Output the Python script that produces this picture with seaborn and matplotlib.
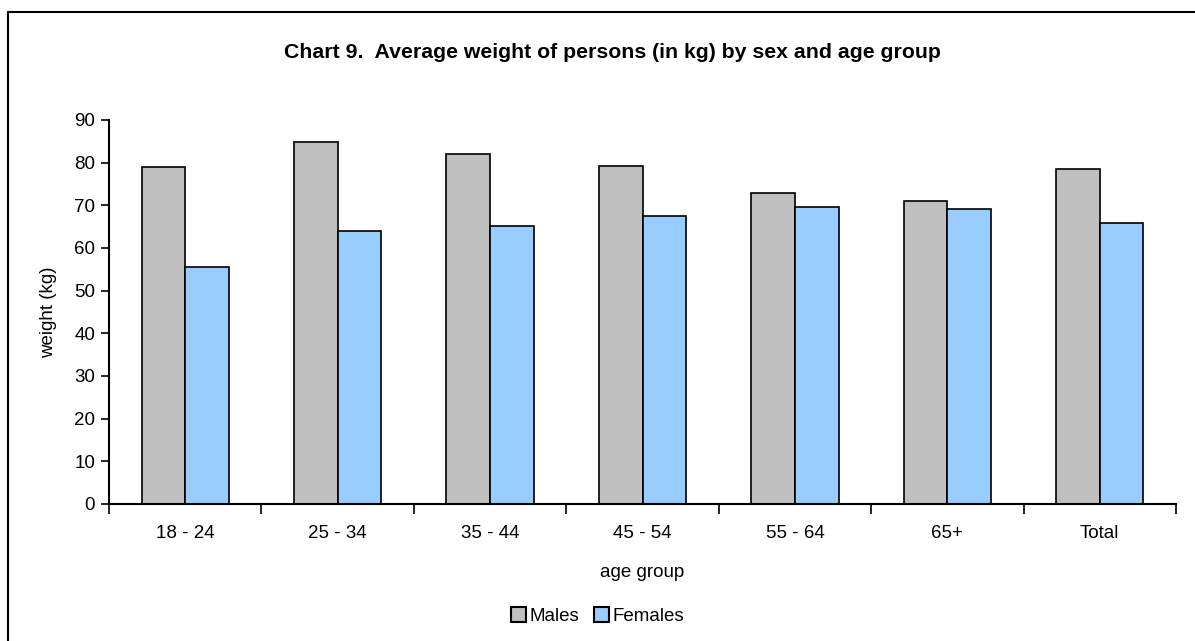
import numpy as np
import pandas as pd
import matplotlib
matplotlib.use("Agg")
import matplotlib.pyplot as plt
import seaborn as sns
from matplotlib.lines import Line2D
from matplotlib.patches import Patch

age_groups = ["18 - 24", "25 - 34", "35 - 44", "45 - 54", "55 - 64", "65+", "Total"]
males = [79.1, 84.8, 82.0, 79.2, 72.8, 70.9, 78.6]
females = [55.5, 64.1, 65.2, 67.4, 69.5, 69.1, 65.8]
y_ticks = [0, 10, 20, 30, 40, 50, 60, 70, 80, 90]

df = pd.DataFrame({
    "age group": age_groups * 2,
    "weight": males + females,
    "sex": ["Males"] * len(males) + ["Females"] * len(females),
})

sns.set_theme(style="white")
plt.rcParams["font.family"] = ["Liberation Sans", "DejaVu Sans"]
plt.rcParams["text.color"] = "black"
plt.rcParams["axes.labelcolor"] = "black"
plt.rcParams["xtick.color"] = "black"
plt.rcParams["ytick.color"] = "black"

palette = {"Males": "#C0C0C0", "Females": "#99CCFF"}

fig = plt.figure(figsize=(11.95, 6.41), dpi=100)
ax = fig.add_axes([109 / 1195, 1 - 504 / 641, (1176 - 109) / 1195, (504 - 120) / 641])

sns.barplot(data=df, x="age group", y="weight", hue="sex", order=age_groups,
            hue_order=["Males", "Females"], palette=palette, width=0.572,
            edgecolor="black", linewidth=1.2, saturation=1, ax=ax, legend=False)

ax.set_xlim(-0.5, len(age_groups) - 0.5)
ax.set_ylim(0, 90)
ax.set_yticks(y_ticks)
ax.tick_params(axis="y", direction="out", length=6, width=1.2, color="black",
               labelsize=13.5, pad=4, left=True, labelcolor="black")
ax.set_xticks(range(len(age_groups)))
ax.set_xticklabels(age_groups)
ax.tick_params(axis="x", which="major", length=0, labelsize=13.5, pad=15, labelcolor="black")
ax.set_xticks(np.arange(-0.5, len(age_groups), 1.0), minor=True)
ax.tick_params(axis="x", which="minor", direction="out", length=7, width=1.2,
               color="black", bottom=True)

for side in ["top", "right"]:
    ax.spines[side].set_visible(False)
for side in ["left", "bottom"]:
    ax.spines[side].set_color("black")
    ax.spines[side].set_linewidth(1.5)
ax.grid(False)

ax.set_ylabel("weight (kg)", fontsize=13.5, labelpad=12, color="black")
ax.set_xlabel("age group", fontsize=13.5, labelpad=16, color="black")

fig.text(612 / 1195, 1 - 53 / 641, "Chart 9.  Average weight of persons (in kg) by sex and age group",
         ha="center", va="center", fontsize=15.3, fontweight="bold", color="black")

handles = [Patch(facecolor=palette[s], edgecolor="black", linewidth=1.5, label=s)
           for s in ["Males", "Females"]]
leg = fig.legend(handles=handles, loc="center", bbox_to_anchor=(0.5, 1 - 616 / 641),
                 ncol=2, frameon=False, fontsize=13.5, handlelength=0.8, handleheight=0.8,
                 handletextpad=0.2, columnspacing=0.8)
for t in leg.get_texts():
    t.set_color("black")

# chart frame (left and top edges)
fig.add_artist(Line2D([7.5 / 1195, 7.5 / 1195], [0, 1 - 11.5 / 641],
                      transform=fig.transFigure, color="black", linewidth=1.5))
fig.add_artist(Line2D([7.5 / 1195, 1], [1 - 11.5 / 641, 1 - 11.5 / 641],
                      transform=fig.transFigure, color="black", linewidth=1.5))

fig.savefig("out.png", dpi=100)
